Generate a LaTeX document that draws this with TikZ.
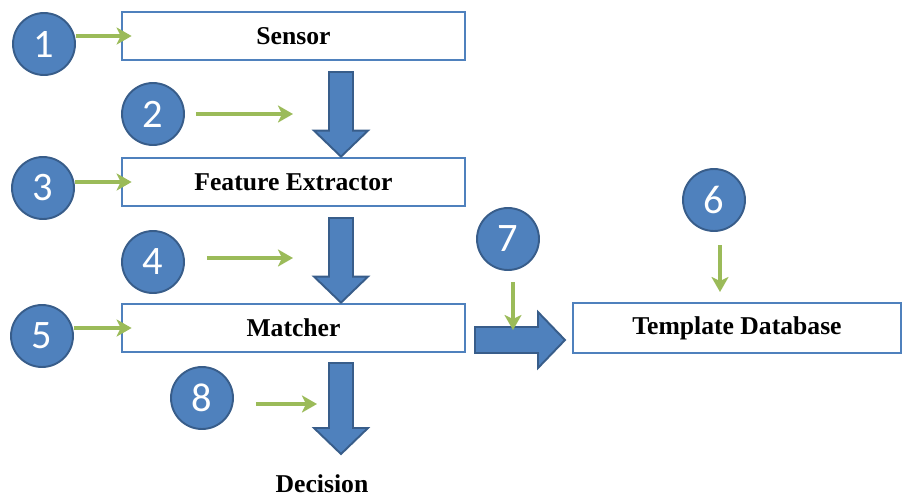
\documentclass[tikz,border=0pt]{standalone}
\usepackage{fontspec}
\setmainfont{Liberation Serif}
\newfontfamily\numfont{Carlito}
\usetikzlibrary{calc,arrows.meta}

\definecolor{boxblue}{HTML}{4F81BD}
\definecolor{ringblue}{HTML}{385D8A}
\definecolor{leafgreen}{HTML}{9BBB59}

% fat blue arrows: #1 = start of the shaft, #2 = tip
\newcommand{\blockdown}[2]{
  \draw[bigarrow] ($(#1)+(-12,0)$) -- ($(#2)+(-12,-26)$) -- ($(#2)+(-27,-26)$) -- (#2)
    -- ($(#2)+(27,-26)$) -- ($(#2)+(12,-26)$) -- ($(#1)+(12,0)$) -- cycle;
}
\newcommand{\blockright}[2]{
  \draw[bigarrow] ($(#1)+(0,-13)$) -- ($(#2)+(-27,-13)$) -- ($(#2)+(-27,-28)$) -- (#2)
    -- ($(#2)+(-27,28)$) -- ($(#2)+(-27,13)$) -- ($(#1)+(0,13)$) -- cycle;
}

\begin{document}
\begin{tikzpicture}[x=0.02cm, y=-0.02cm, font=\fontsize{14.6}{17}\selectfont\bfseries]
		\tikzset{
			stage/.style = { draw=boxblue, line width=1.6pt, fill=white, minimum height=0.96cm, minimum width=6.86cm },
			num/.style = { circle, draw=ringblue, line width=1.1pt, fill=boxblue, text=white, minimum size=1.24cm, inner sep=0pt, font=\fontsize{23}{23}\selectfont\numfont },
			pointer/.style = { draw=leafgreen, line width=2.4pt, -{Stealth[length=0.3cm, width=0.34cm, inset=0.08cm]} },
			bigarrow/.style = { fill=boxblue, draw=ringblue, line width=1.1pt },
		}
		\useasboundingbox (0,0) rectangle (904,498);

		% the stages
		\node[stage] (sensor) at (293.5,36) { Sensor };
		\node[stage] (extractor) at (293.5,182) { Feature Extractor };
		\node[stage] (matcher) at (293.5,328) { Matcher };
		\node[stage, minimum width=6.56cm, minimum height=1cm] (template) at (737,328) { Template Database };
		\node[inner sep=0pt] (decision) at (322,484) { Decision };

		% numbered points
		\node[num] (n1) at (44,44) {1};
		\node[num] (n2) at (153,114) {2};
		\node[num] (n3) at (43,188) {3};
		\node[num] (n4) at (153,262) {4};
		\node[num] (n5) at (42,336) {5};
		\node[num] (n6) at (714,200) {6};
		\node[num] (n7) at (508,239) {7};
		\node[num] (n8) at (202,398) {8};

		% data flow
		\coordinate (f1) at (341,72);
		\coordinate (f2) at (341,218);
		\coordinate (f3) at (341,363);
		\coordinate (f4) at (475,340);
		\blockdown{f1}{f1 |- extractor.north}
		\blockdown{f2}{f2 |- matcher.north}
		\blockdown{f3}{341,454}
		\blockright{f4}{565,340}

		% where each point hits
		\coordinate (p2) at (293,114);
		\coordinate (p4) at (293,258);
		\coordinate (p6) at (720,292);
		\coordinate (p7) at (513,330);
		\coordinate (p8) at (317,404);
		\draw[pointer] (n1.east |- sensor) -- ([xshift=0.22cm]sensor.west);
		\draw[pointer] (n3.east |- extractor) -- ([xshift=0.22cm]extractor.west);
		\draw[pointer] (n5.east |- matcher) -- ([xshift=0.22cm]matcher.west);
		\draw[pointer] ([xshift=0.22cm]n2.east) -- (p2);
		\draw[pointer] ([xshift=0.44cm]n4.east |- p4) -- (p4);
		\draw[pointer] ([xshift=0.44cm]n8.east |- p8) -- (p8);
		\draw[pointer] (p6 |- 0,245) -- (p6);
		\draw[pointer] (p7 |- 0,282) -- (p7);
\end{tikzpicture}
\end{document}
